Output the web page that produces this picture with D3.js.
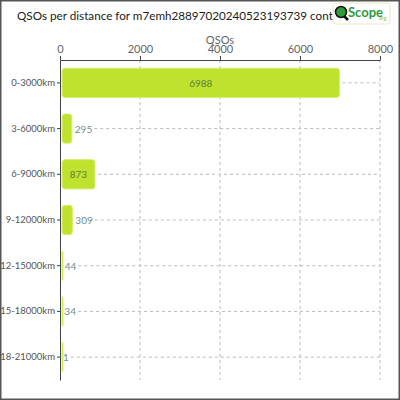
<!DOCTYPE html>
<html>
<head>
<meta charset="utf-8">
<script src="https://cdn.jsdelivr.net/npm/d3@7"></script>
<style>
  body { margin: 0; background: #fff; }
  svg text { font-family: Lato, "Open Sans", sans-serif; }
</style>
</head>
<body>
<div id="chart"></div>
<script>
// chart data
var title = "QSOs per distance for m7emh28897020240523193739 contains";
var distances = ["0-3000km", "3-6000km", "6-9000km", "9-12000km", "12-15000km", "15-18000km", "18-21000km"];
var qsos = [6988, 295, 873, 309, 44, 34, 1];
var xTicks = [0, 2000, 4000, 6000, 8000];

var svgWidth = 400;
var svgHeight = 400;
var margin = { top: 60, right: 20, bottom: 20, left: 60 };
var width = svgWidth - margin.left - margin.right;
var height = svgHeight - margin.top - margin.bottom;

var data = distances.map(function(d, i) { return { dist: d, n: qsos[i] }; });

var svg = d3.select("#chart")
  .append("svg")
  .attr("width", svgWidth)
  .attr("height", svgHeight);

// frame
svg.append("rect")
  .attr("x", 0.75).attr("y", 0.75)
  .attr("width", svgWidth - 1.5).attr("height", svgHeight - 1.5)
  .attr("fill", "#fff")
  .attr("stroke", "#555")
  .attr("stroke-width", 1.5);

svg.append("text")
  .attr("x", 17)
  .attr("y", 20)
  .attr("font-size", "11.7px")
  .attr("fill", "#222")
  .text(title);

var chartGroup = svg.append("g")
  .attr("transform", `translate(${margin.left}, ${margin.top})`);

var x = d3.scaleLinear().domain([0, 8000]).range([0, width]);
var y = d3.scaleBand().domain(distances).range([0, height])
  .paddingInner(0.36).paddingOuter(0.18);

var inside = d => x(d.n) > 30;

// vertical grid
chartGroup.selectAll(".vgrid")
  .data(xTicks.slice(1))
  .enter().append("line")
  .attr("x1", d => x(d)).attr("x2", d => x(d))
  .attr("y1", 0).attr("y2", height)
  .attr("stroke", "#bbb")
  .attr("stroke-dasharray", "3,3");

var hgrid = chartGroup.selectAll(".hgrid")
  .data(data)
  .enter().append("line")
  .attr("x2", width)
  .attr("y1", d => y(d.dist) + y.bandwidth() / 2)
  .attr("y2", d => y(d.dist) + y.bandwidth() / 2)
  .attr("stroke", "#bbb")
  .attr("stroke-dasharray", "3,3");

// axes
var xAxis = chartGroup.append("g")
  .call(d3.axisTop(x).tickValues(xTicks).tickSize(4).tickSizeOuter(0).tickFormat(d3.format("d")));
xAxis.select(".domain").attr("stroke", "#444");
xAxis.selectAll(".tick line").attr("stroke", "#444");
xAxis.selectAll("text").attr("fill", "#666").attr("font-size", "11px").attr("font-family", "Lato");

var yAxis = chartGroup.append("g")
  .call(d3.axisLeft(y).tickSize(3).tickSizeOuter(0).tickPadding(2));
yAxis.select(".domain").attr("stroke", "#444");
yAxis.selectAll(".tick line").attr("stroke", "#444");
yAxis.selectAll("text").attr("fill", "#555").attr("font-size", "9.5px").attr("font-family", "Lato");

chartGroup.append("text")
  .attr("x", width / 2)
  .attr("y", -16)
  .attr("text-anchor", "middle")
  .attr("font-size", "11px")
  .attr("fill", "#666")
  .text("QSOs");

// bars
chartGroup.selectAll(".bar")
  .data(data)
  .enter().append("rect")
  .attr("x", 2)
  .attr("y", d => y(d.dist))
  .attr("width", d => Math.max(1, x(d.n) - 2))
  .attr("height", y.bandwidth())
  .attr("rx", 3)
  .attr("fill", "#bfe22e")
  .attr("stroke", "#d4ef6a")
  .attr("stroke-width", 1);

// value labels
var labels = chartGroup.selectAll(".val")
  .data(data)
  .enter().append("text")
  .attr("x", d => inside(d) ? 2 + (x(d.n) - 2) / 2 : x(d.n) + 3)
  .attr("y", d => y(d.dist) + y.bandwidth() / 2 + 4)
  .attr("text-anchor", d => inside(d) ? "middle" : "start")
  .attr("font-size", "10px")
  .attr("fill", d => inside(d) ? "#5f7f3a" : "#6f9090")
  .text(d => d.n);

// dashed row lines start after the bar or its label
labels.each(function(d, i) {
  var end = inside(d) ? x(d.n) + 3 : x(d.n) + 3 + this.getComputedTextLength() + 2;
  d3.select(hgrid.nodes()[i]).attr("x1", end);
});

// logo
var logo = svg.append("g").attr("transform", "translate(333, 3)");
logo.append("rect")
  .attr("width", 57).attr("height", 21).attr("rx", 3)
  .attr("fill", "#fff").attr("stroke", "#eee8c8");
logo.append("line")
  .attr("x1", 9).attr("y1", 11).attr("x2", 15).attr("y2", 17)
  .attr("stroke", "#111").attr("stroke-width", 2.5);
logo.append("circle")
  .attr("cx", 8).attr("cy", 9).attr("r", 5.5)
  .attr("fill", "#2e9c3a").attr("stroke", "#111").attr("stroke-width", 1.5);
logo.append("text")
  .attr("x", 15).attr("y", 14)
  .attr("font-size", "13px").attr("font-weight", "bold")
  .attr("fill", "#2e9c3a")
  .text("Scope");
logo.append("text")
  .attr("x", 45).attr("y", 17)
  .attr("font-size", "5px")
  .attr("fill", "#8bc34a")
  .text(".org");
</script>
</body>
</html>
